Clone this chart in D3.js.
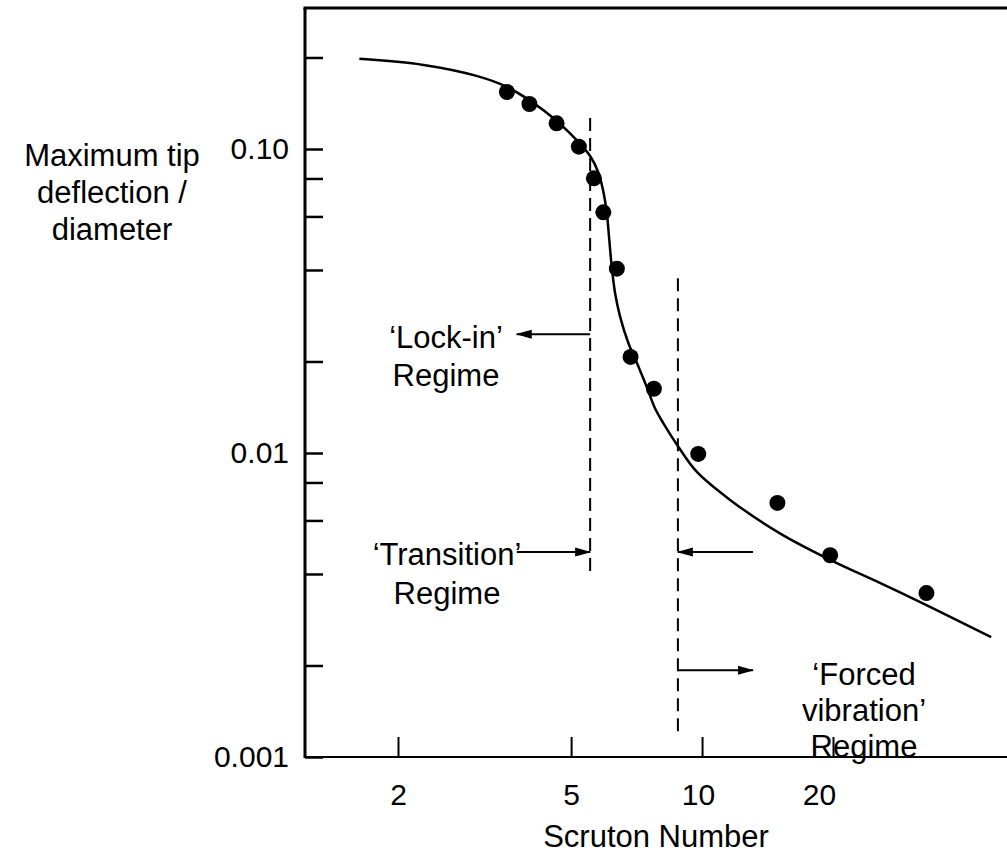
<!DOCTYPE html>
<html>
<head>
<meta charset="utf-8">
<script src="https://cdnjs.cloudflare.com/ajax/libs/d3/7.8.5/d3.min.js"></script>
<style>
    body { margin: 0; background: #fff; }
    svg text { font-family: "Liberation Sans", Arial, Helvetica, sans-serif; fill: #000; }
</style>
</head>
<body>
<div id="chart"></div>
<script>

// measured points (Scruton number vs max tip deflection / diameter)
const pointSc = [3.56, 4.01, 4.63, 5.21, 5.64, 5.93, 6.37, 6.85, 7.75, 9.80, 14.9, 19.7, 32.8];
const pointDefl = [0.154, 0.1406, 0.1215, 0.1018, 0.0801, 0.0619, 0.0404, 0.0207, 0.01627, 0.00993, 0.00685, 0.00461, 0.00346];

// fitted curve
const curveSc = [1.63, 2.29, 3.03, 3.56, 4.32, 5.15, 5.53, 5.77, 5.92, 6.04, 6.12, 6.20, 6.31, 6.48, 6.77,
    7.08, 7.46, 7.80, 8.15, 8.82, 9.72, 11.6, 15.1, 19.7, 25.7, 32.8, 46.2];
const curveDefl = [0.198, 0.189, 0.174, 0.160, 0.134, 0.107, 0.0948, 0.0840, 0.0733, 0.0616, 0.0502, 0.0410, 0.0336,
    0.0281, 0.0230, 0.0198, 0.0165, 0.0140, 0.01252, 0.01049, 0.00868, 0.00701, 0.00544, 0.00445, 0.00373, 0.00316, 0.00248];

// regime boundaries (Scruton number) and the extent of each dashed line
const boundSc = [5.53, 8.8];
const boundTop = [0.1265, 0.0376];
const boundBottom = [0.00406, 0.0012];

// arrows: [from Sc, to Sc, deflection level]
const arrowFrom = [5.53, 3.75, 13.1, 8.8];
const arrowTo = [3.75, 5.53, 8.8, 13.1];
const arrowLevel = [0.0246, 0.00472, 0.00472, 0.00193];

const xTicks = [2, 5, 10, 20];
const xTickLabels = ["2", "5", "10", "20"];
const yTicks = [0.2, 0.1, 0.08, 0.06, 0.04, 0.02, 0.01, 0.008, 0.006, 0.004, 0.002, 0.001];
const yLabelValues = [0.1, 0.01, 0.001];
const yLabels = ["0.10", "0.01", "0.001"];


const margin = {top: 8, right: 0, bottom: 98, left: 305};
const totalW = 1007, totalH = 855;
const width = totalW - margin.left - margin.right;
const height = totalH - margin.top - margin.bottom;

const svg = d3.select("#chart").append("svg")
    .attr("width", totalW)
    .attr("height", totalH);

const g = svg.append("g")
    .attr("transform", "translate(" + margin.left + "," + margin.top + ")");

// log scales, one decade ~ 435px on x and ~304px on y
const x = d3.scaleLog()
    .domain([2, 20])
    .range([93, 528]);

const y = d3.scaleLog()
    .domain([0.001, 0.1])
    .range([height, height - 608]);

svg.append("defs").append("marker")
    .attr("id", "arrowhead")
    .attr("markerUnits", "userSpaceOnUse")
    .attr("viewBox", "0 -5 16 10")
    .attr("refX", 15)
    .attr("refY", 0)
    .attr("markerWidth", 16)
    .attr("markerHeight", 10)
    .attr("orient", "auto")
    .append("path")
    .attr("d", "M0,-4.5L16,0L0,4.5Z")
    .attr("fill", "#000");

// axes
const yAxis = d3.axisLeft(y)
    .tickValues(yTicks)
    .tickSizeInner(-18)
    .tickSizeOuter(0)
    .tickPadding(16)
    .tickFormat(d => {
        let i = yLabelValues.indexOf(d);
        return i >= 0 ? yLabels[i] : "";
    });

const yG = g.append("g").call(yAxis);
yG.select(".domain").remove();
yG.selectAll(".tick line").attr("stroke", "#000").attr("stroke-width", 2.5);
yG.selectAll(".tick text")
    .attr("font-family", null)
    .style("font-size", "30px");

const xAxis = d3.axisBottom(x)
    .tickValues(xTicks)
    .tickSizeInner(-20)
    .tickSizeOuter(0)
    .tickPadding(27)
    .tickFormat((d, i) => xTickLabels[i]);

const xG = g.append("g")
    .attr("transform", "translate(0," + height + ")")
    .call(xAxis);
xG.select(".domain").remove();
xG.selectAll(".tick line").attr("stroke", "#000").attr("stroke-width", 2);
xG.selectAll(".tick text")
    .attr("font-family", null)
    .style("font-size", "30px")
    .attr("dx", d => d >= 20 ? -14 : (d >= 10 ? -4 : 0));

// frame: thick left + top, thinner bottom
g.append("line")
    .attr("x1", 0).attr("x2", 0)
    .attr("y1", 0).attr("y2", height + 1)
    .attr("stroke", "#000").attr("stroke-width", 3);
g.append("line")
    .attr("x1", -1.5).attr("x2", width)
    .attr("y1", 0).attr("y2", 0)
    .attr("stroke", "#000").attr("stroke-width", 3);
g.append("line")
    .attr("x1", 0).attr("x2", width)
    .attr("y1", height).attr("y2", height)
    .attr("stroke", "#000").attr("stroke-width", 2);

// regime boundaries
boundSc.forEach((s, i) => {
    g.append("line")
        .attr("x1", x(s)).attr("x2", x(s))
        .attr("y1", y(boundTop[i]))
        .attr("y2", y(boundBottom[i]))
        .attr("stroke", "#000")
        .attr("stroke-width", 2)
        .attr("stroke-dasharray", "13,7");
});

arrowFrom.forEach((s, i) => {
    g.append("line")
        .attr("x1", x(s)).attr("x2", x(arrowTo[i]))
        .attr("y1", y(arrowLevel[i])).attr("y2", y(arrowLevel[i]))
        .attr("stroke", "#000")
        .attr("stroke-width", 2)
        .attr("marker-end", "url(#arrowhead)");
});

// fitted curve
const line = d3.line()
    .x(d => x(d[0]))
    .y(d => y(d[1]))
    .curve(d3.curveCatmullRom.alpha(0.5));

g.append("path")
    .datum(curveSc.map((s, i) => [s, curveDefl[i]]))
    .attr("d", line)
    .attr("fill", "none")
    .attr("stroke", "#000")
    .attr("stroke-width", 2.5);

g.selectAll(".pt")
    .data(pointSc.map((s, i) => [s, pointDefl[i]]))
    .enter().append("circle")
    .attr("class", "pt")
    .attr("cx", d => x(d[0]))
    .attr("cy", d => y(d[1]))
    .attr("r", 8)
    .attr("fill", "#000");

// text labels
function multiline(cx, baseline, lines, step) {
    let t = svg.append("text")
        .attr("text-anchor", "middle")
        .style("font-size", "31px");
    lines.forEach((s, i) => {
        t.append("tspan")
            .attr("x", cx)
            .attr("y", baseline + i * step)
            .text(s);
    });
}

multiline(112, 166, ["Maximum tip", "deflection /", "diameter"], 37);
multiline(446, 348, ["\u2018Lock-in\u2019", "Regime"], 38);
multiline(447, 565, ["\u2018Transition\u2019", "Regime"], 39);
multiline(864, 685, ["\u2018Forced", "vibration\u2019", "Regime"], 36);

svg.append("text")
    .attr("x", margin.left + width / 2)
    .attr("y", 847)
    .attr("text-anchor", "middle")
    .style("font-size", "31px")
    .text("Scruton Number");

</script>
</body>
</html>
